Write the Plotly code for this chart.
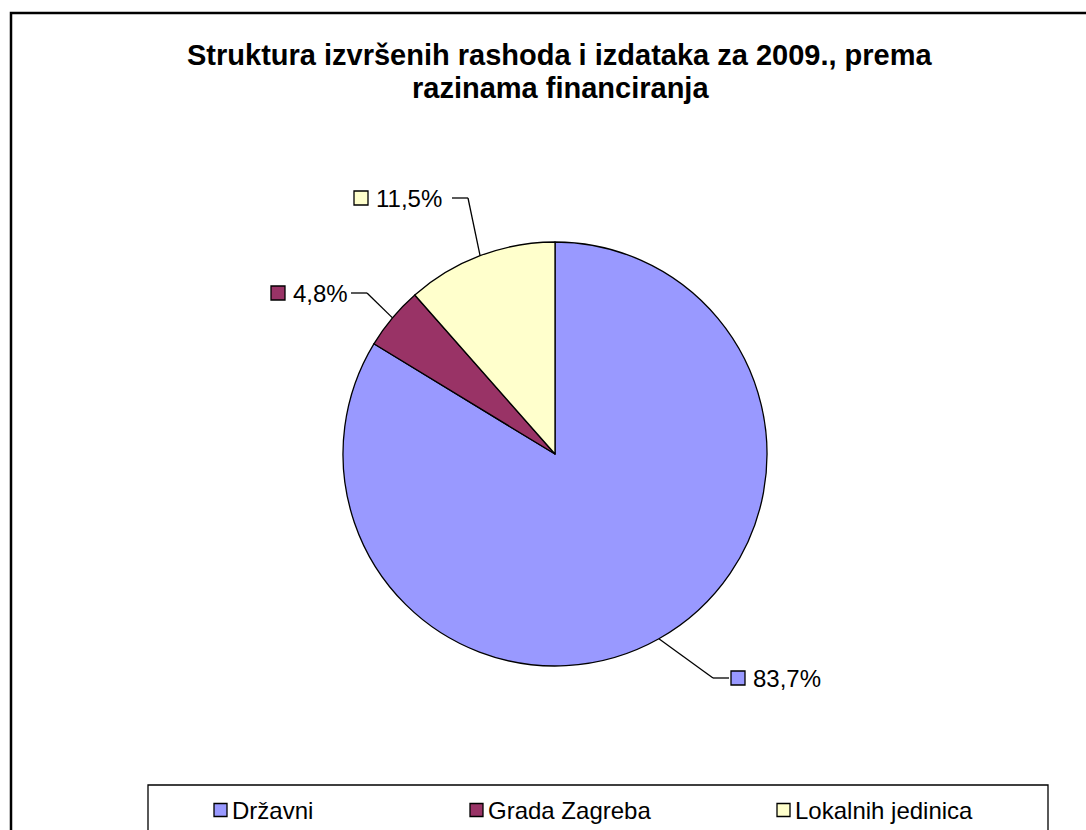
import math
import plotly.graph_objects as go

# ---- data ----
categories = ["Državni", "Grada Zagreba", "Lokalnih jedinica"]
shares = [83.7, 4.8, 11.5]
share_labels = ["83,7%", "4,8%", "11,5%"]
colors = ["#9999FF", "#993366", "#FFFFCC"]
title_lines = ["Struktura izvršenih rashoda i izdataka za 2009., prema", "razinama financiranja"]

# ---- layout helpers (pixel -> paper) ----
W, H = 1086, 830
def px(x):
    return x / W
def py(y):
    return 1 - y / H

CX, CY, R = 555, 454, 212  # pie centre / radius in px
FONT = "Liberation Sans, Arial, sans-serif"
LW = 1.3

fig = go.Figure()
fig.add_trace(go.Pie(
    labels=categories, values=shares, sort=False, direction="clockwise", rotation=0,
    marker=dict(colors=colors, line=dict(color="black", width=LW)),
    textinfo="none", hoverinfo="label+percent", showlegend=False,
    domain=dict(x=[px(CX - R), px(CX + R)], y=[py(CY + R), py(CY - R)]),
))

# data-label placement (elbow point px, side: +1 label to right, -1 to left, square-left x)
label_layout = {
    "Državni": dict(elbow=(713, 678), side=1, sq=731),
    "Grada Zagreba": dict(elbow=(367, 293), side=-1, sq=271),
    "Lokalnih jedinica": dict(elbow=(468, 198), side=-1, sq=354),
}
# legend entry placement (square-left x)
legend_x = {"Državni": 214, "Grada Zagreba": 470, "Lokalnih jedinica": 777}
LEG_Y = 810
SQ = 13

shapes = []
annotations = []
total = sum(shares)
cum = 0.0
for cat, val, lab, col in zip(categories, shares, share_labels, colors):
    mid = (cum + val / 2) / total
    cum += val
    ang = math.radians(90 - mid * 360)
    ax_, ay_ = CX + R * math.cos(ang), CY - R * math.sin(ang)
    L = label_layout[cat]
    ex, ey = L["elbow"]
    endx = ex + 16 * L["side"]
    shapes.append(dict(type="line", xref="paper", yref="paper", x0=px(ax_), y0=py(ay_),
                       x1=px(ex), y1=py(ey), line=dict(color="black", width=LW)))
    shapes.append(dict(type="line", xref="paper", yref="paper", x0=px(ex), y0=py(ey),
                       x1=px(endx), y1=py(ey), line=dict(color="black", width=LW)))
    sq = L["sq"]
    shapes.append(dict(type="rect", xref="paper", yref="paper", x0=px(sq), x1=px(sq + 14),
                       y0=py(ey + 7), y1=py(ey - 7), fillcolor=col,
                       line=dict(color="black", width=LW)))
    annotations.append(dict(xref="paper", yref="paper", x=px(sq + 20), y=py(ey), text=lab,
                            showarrow=False, xanchor="left", yanchor="middle",
                            font=dict(family=FONT, size=24, color="black")))
    # legend entry
    lx = legend_x[cat]
    shapes.append(dict(type="rect", xref="paper", yref="paper", x0=px(lx), x1=px(lx + SQ),
                       y0=py(LEG_Y + SQ / 2), y1=py(LEG_Y - SQ / 2), fillcolor=col,
                       line=dict(color="black", width=LW)))
    annotations.append(dict(xref="paper", yref="paper", x=px(lx + SQ + 3), y=py(LEG_Y), text=cat,
                            showarrow=False, xanchor="left", yanchor="middle",
                            font=dict(family=FONT, size=24, color="black")))

# chart title (two lines, bold)
for line, yc in zip(title_lines, [55, 88]):
    annotations.append(dict(xref="paper", yref="paper", x=px(560), y=py(yc), text="<b>" + line + "</b>",
                            showarrow=False, xanchor="center", yanchor="middle",
                            font=dict(family=FONT, size=29, color="black")))

# outer chart border
shapes.append(dict(type="rect", xref="paper", yref="paper", x0=px(11), y0=py(860), x1=px(1110), y1=py(13),
                   line=dict(color="black", width=2.5), layer="above"))
# legend box
shapes.append(dict(type="rect", xref="paper", yref="paper", x0=px(148), y0=py(850), x1=px(1048), y1=py(785),
                   line=dict(color="black", width=LW), layer="above"))

fig.update_layout(
    width=W, height=H,
    margin=dict(l=0, r=0, t=0, b=0),
    paper_bgcolor="white", plot_bgcolor="white",
    showlegend=False,
    shapes=shapes, annotations=annotations,
)

fig.write_html("out.html", config={"displayModeBar": False},
               post_script="document.body.style.margin='0';document.body.style.overflow='hidden';")
